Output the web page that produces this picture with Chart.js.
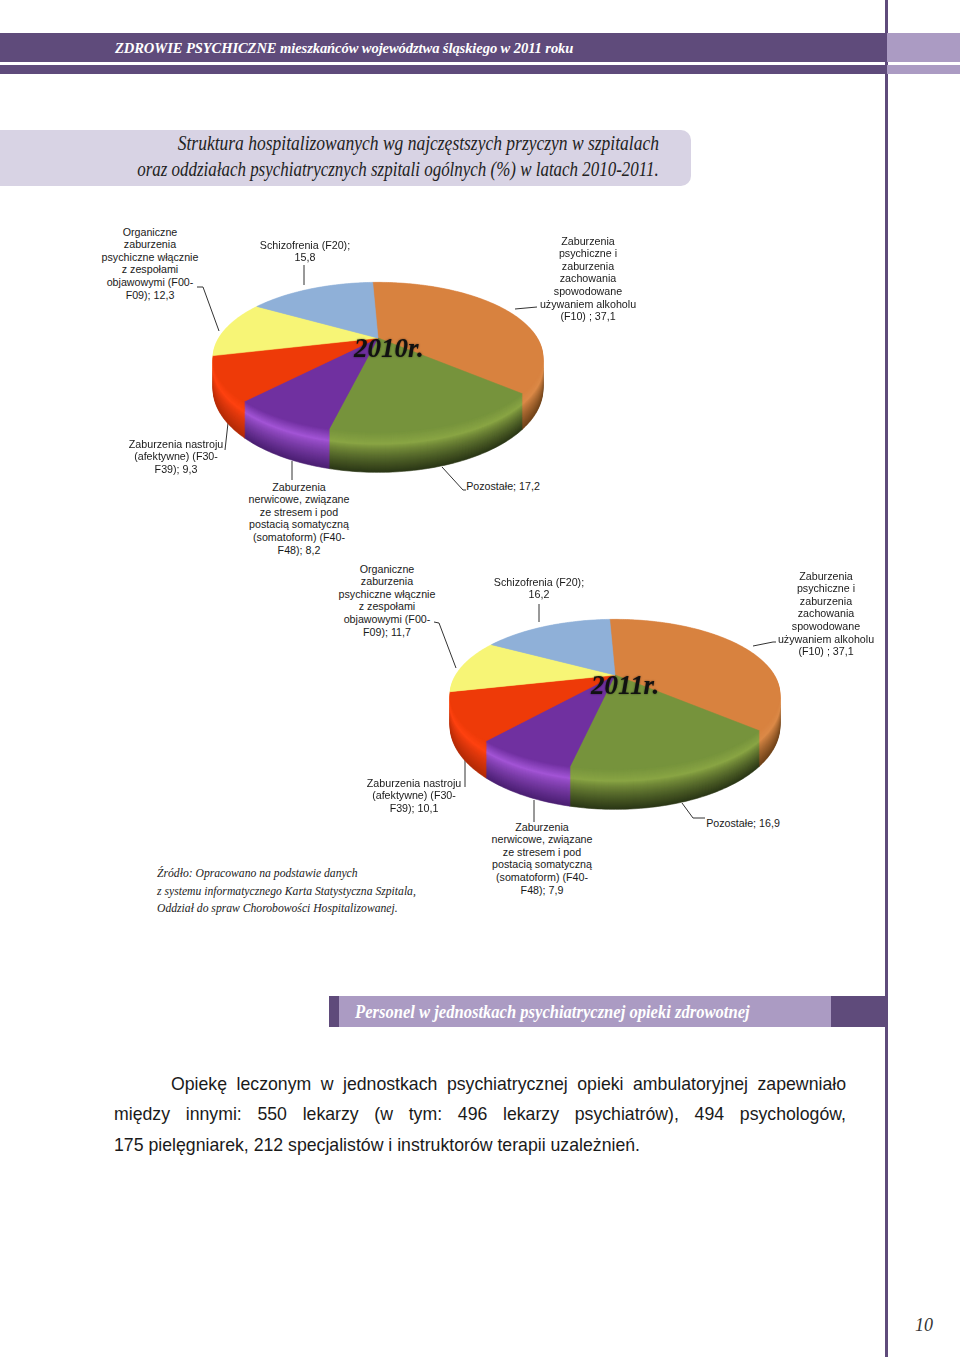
<!DOCTYPE html>
<html lang="pl">
<head>
<meta charset="utf-8">
<title>Struktura hospitalizowanych</title>
<script src="https://cdn.jsdelivr.net/npm/chart.js@4"></script>
<style>
html, body { margin: 0; padding: 0; background: #fff; }
#page { position: relative; width: 960px; height: 1357px; overflow: hidden; font-family: "Liberation Sans", sans-serif; color: #111; }
#page > div, #page > canvas, #page > svg { position: absolute; }
.dark { background: #5f4b7b; }
.light { background: #ab9bc3; }
.lbl { font-size: 10.7px; line-height: 12.6px; text-align: center; white-space: nowrap; transform: translateX(-50%); color: #1a1a1a; }
.year { font: italic bold 27px "Liberation Serif", serif; color: #111; text-shadow: 0 0 2px rgba(0,0,0,.55); white-space: nowrap; }
.script { font-family: "Liberation Serif", serif; font-style: italic; white-space: nowrap; }
.para { font-size: 17.7px; line-height: 30.5px; left: 114px; width: 732px; text-align: justify; text-align-last: justify; color: #1a1a1a; }
</style>
</head>
<body>
<div id="page">
  <div style="left:885px;top:0;width:3px;height:1357px" class="dark"></div>
  <div style="left:0;top:33px;width:886px;height:29px" class="dark"></div>
  <div style="left:0;top:65px;width:886px;height:9px" class="dark"></div>
  <div style="left:887px;top:33px;width:73px;height:29px" class="light"></div>
  <div style="left:887px;top:65px;width:73px;height:9px" class="light"></div>
  <div class="script" style="left:115px;top:38px;font-size:15.5px;line-height:20px;font-weight:bold;color:#fff;letter-spacing:-.1px;transform:scaleX(.94);transform-origin:left">ZDROWIE PSYCHICZNE mieszkańców województwa śląskiego w 2011 roku</div>

  <div style="left:0;top:130px;width:691px;height:56px;background:#d8d3e4;border-radius:0 10px 10px 0"></div>
  <div class="script" style="right:301px;top:130px;font-size:20px;line-height:26px;color:#222;transform:scaleX(.875);transform-origin:right">Struktura hospitalizowanych wg najczęstszych przyczyn w szpitalach</div>
  <div class="script" style="right:301px;top:156px;font-size:20px;line-height:26px;color:#222;transform:scaleX(.847);transform-origin:right">oraz oddziałach psychiatrycznych szpitali ogólnych (%) w latach 2010-2011.</div>

  <svg id="leaders" width="960" height="1357" style="left:0;top:0" fill="none" stroke="#333" stroke-width="1">
    <polyline points="197,287 203,287 219,331"/>
    <polyline points="304,265 304,285"/>
    <polyline points="515,309 537,307"/>
    <polyline points="225,450 228,423"/>
    <polyline points="292,461 292,480"/>
    <polyline points="442,467 463,490 466,490"/>
    <polyline points="434,622 439,623 456,668"/>
    <polyline points="539,604 539,622"/>
    <polyline points="753,646 773,642 776,642"/>
    <polyline points="465,760 465,787"/>
    <polyline points="534,800 534,822"/>
    <polyline points="682,803 693,818 705,818"/>
  </svg>

  <canvas id="pie2010" width="340" height="280" style="left:208px;top:198px"></canvas>
  <canvas id="pie2011" width="340" height="280" style="left:445px;top:535px"></canvas>

  <div class="year" style="left:354px;top:333px">2010r.</div>
  <div class="year" style="left:591px;top:670px">2011r.</div>

  <div class="script" style="left:157px;top:865px;font-size:12.6px;line-height:17.6px;color:#222;transform:scaleX(.925);transform-origin:left">Źródło: Opracowano na podstawie danych<br>z systemu informatycznego Karta Statystyczna Szpitala,<br>Oddział do spraw Chorobowości Hospitalizowanej.</div>

  <div style="left:329px;top:996px;width:10px;height:31px" class="dark"></div>
  <div style="left:339px;top:996px;width:492px;height:31px" class="light"></div>
  <div style="left:831px;top:996px;width:55px;height:31px" class="dark"></div>
  <div class="script" style="left:355px;top:1001px;font-size:18.5px;line-height:22px;font-weight:bold;color:#fff;transform:scaleX(.896);transform-origin:left">Personel w jednostkach psychiatrycznej opieki zdrowotnej</div>

  <div class="para" style="top:1069px;left:171px;width:675px">Opiekę leczonym w jednostkach psychiatrycznej opieki ambulatoryjnej zapewniało</div>
  <div class="para" style="top:1099px">między innymi: 550 lekarzy (w tym: 496 lekarzy psychiatrów), 494 psychologów,</div>
  <div class="para" style="top:1130px;text-align:left;text-align-last:left">175 pielęgniarek, 212 specjalistów i instruktorów terapii uzależnień.</div>

  <div class="script" style="left:915px;top:1314px;font-size:18px;line-height:22px;color:#333">10</div>
</div>

<script>
// Category names, "|" marks the line breaks used in the labels
const categories = [
    'Zaburzenia|psychiczne i|zaburzenia|zachowania|spowodowane|używaniem alkoholu|(F10) ',
    'Pozostałe',
    'Zaburzenia|nerwicowe, związane|ze stresem i pod|postacią somatyczną|(somatoform) (F40-|F48)',
    'Zaburzenia nastroju|(afektywne) (F30-|F39)',
    'Organiczne|zaburzenia|psychiczne włącznie|z zespołami|objawowymi (F00-|F09)',
    'Schizofrenia (F20);|'
];
const values2010 = [37.1, 17.2, 8.2, 9.3, 12.3, 15.8];
const values2011 = [37.1, 16.9, 7.9, 10.1, 11.7, 16.2];

// Label anchors: centre x and first line middle y, same order as categories
const labelPos2010 = [[588, 241], [503, 486], [299, 487], [176, 444], [150, 232], [305, 245]];
const labelPos2011 = [[826, 576], [743, 823], [542, 827], [414, 783], [387, 569], [539, 582]];

// Slice colours: top face, wall highlight, wall bottom
const topColors = ['#d8823f', '#76933c', '#7030a0', '#ee3a08', '#f7f576', '#8fb0d8'];
const lightColors = ['#dc8a48', '#8aa544', '#a355d6', '#ff4210', '#f7f576', '#8fb0d8'];
const darkColors = ['#6f4218', '#2b3716', '#4b1f72', '#b32a06', '#b0b050', '#607890'];

const DEPTH = 40;

function hexToRgb(hex) {
    return [1, 3, 5].map(i => parseInt(hex.slice(i, i + 2), 16));
}

function mix(a, b, t) {
    const ca = hexToRgb(a), cb = hexToRgb(b);
    return 'rgb(' + ca.map((c, i) => Math.round(c + (cb[i] - c) * t)).join(',') + ')';
}

function wallColor(i, d) {
    const t = d / DEPTH;
    if (t < 0.3) return mix(topColors[i], lightColors[i], t / 0.3);
    return mix(lightColors[i], darkColors[i], Math.pow((t - 0.3) / 0.7, 0.8));
}

// Tilted pie: takes the arc angles from the chart and draws them with perspective
const tiltedPie = {
    id: 'tiltedPie',
    beforeDatasetDraw(chart, args) {
        const ctx = chart.ctx;
        const arcs = chart.getDatasetMeta(args.index).data;
        const k = 0.258;

        const slicePath = (arc, d) => {
            const rx = arc.outerRadius * 1.138;
            const ry = arc.outerRadius * 0.5;
            ctx.beginPath();
            ctx.moveTo(arc.x, arc.y + d * 0.75);
            const n = Math.ceil((arc.endAngle - arc.startAngle) * 60);
            for (let s = 0; s <= n; s++) {
                const a = arc.startAngle + (arc.endAngle - arc.startAngle) * s / n;
                const w = 1 - k * Math.sin(a);
                // the wall is shorter towards the back of the pie
                const drop = d * (1 - k) / w;
                ctx.lineTo(arc.x + rx * Math.cos(a) / w, arc.y + drop + ry * Math.sin(a) / w);
            }
            ctx.closePath();
        };

        ctx.save();
        ctx.lineWidth = 0.6;
        for (let d = DEPTH; d >= 0; d--) {
            arcs.forEach((arc, i) => {
                const c = d === 0 ? topColors[i] : wallColor(i, d);
                slicePath(arc, d);
                ctx.fillStyle = c;
                ctx.strokeStyle = c;
                ctx.fill();
                ctx.stroke();
            });
        }
        ctx.restore();
        return false;
    }
};

function makePie(id, values) {
    return new Chart(document.getElementById(id), {
        type: 'pie',
        data: {
            labels: categories.map(c => c.replace(/\|/g, ' ')),
            datasets: [{ data: values, backgroundColor: topColors, borderWidth: 0 }]
        },
        options: {
            responsive: false,
            animation: false,
            rotation: -2.4,
            plugins: { legend: { display: false }, tooltip: { enabled: false } }
        },
        plugins: [tiltedPie]
    });
}

function addLabels(values, positions) {
    const page = document.getElementById('page');
    categories.forEach((cat, i) => {
        const el = document.createElement('div');
        el.className = 'lbl';
        el.style.left = positions[i][0] + 'px';
        el.style.top = (positions[i][1] - 6.3) + 'px';
        const value = String(values[i]).replace('.', ',');
        // the schizophrenia label already ends with its semicolon
        const text = cat.endsWith(';|') ? cat + value : cat + '; ' + value;
        text.split('|').forEach((line, n) => {
            if (n) el.appendChild(document.createElement('br'));
            el.appendChild(document.createTextNode(line));
        });
        page.appendChild(el);
    });
}

makePie('pie2010', values2010);
makePie('pie2011', values2011);
addLabels(values2010, labelPos2010);
addLabels(values2011, labelPos2011);
</script>
</body>
</html>
